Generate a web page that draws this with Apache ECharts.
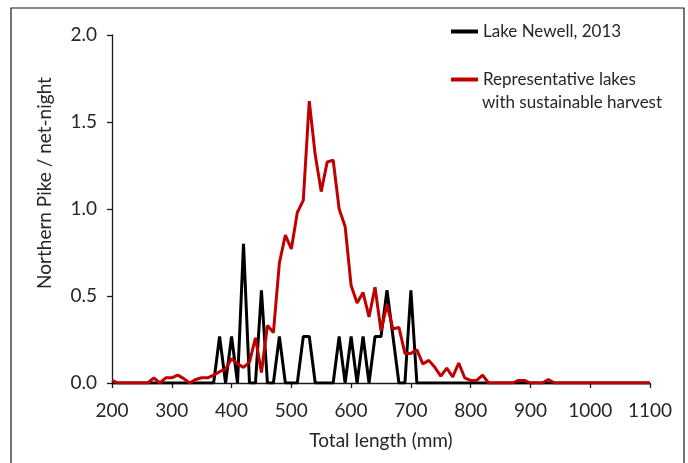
<!DOCTYPE html>
<html>
<head>
<meta charset="utf-8">
<script src="https://cdn.jsdelivr.net/npm/echarts@6/dist/echarts.min.js"></script>
<style>
  html, body { margin: 0; padding: 0; background: #fff; }
  #chart { width: 688px; height: 463px; }
</style>
</head>
<body>
<div id="chart"></div>
<script>
// total length classes (mm)
var lengths = [200, 210, 220, 230, 240, 250, 260, 270, 280, 290,
               300, 310, 320, 330, 340, 350, 360, 370, 380, 390,
               400, 410, 420, 430, 440, 450, 460, 470, 480, 490,
               500, 510, 520, 530, 540, 550, 560, 570, 580, 590,
               600, 610, 620, 630, 640, 650, 660, 670, 680, 690,
               700, 710, 720, 730, 740, 750, 760, 770, 780, 790,
               800, 810, 820, 830, 840, 850, 860, 870, 880, 890,
               900, 910, 920, 930, 940, 950, 960, 970, 980, 990,
               1000, 1010, 1020, 1030, 1040, 1050, 1060, 1070, 1080, 1090,
               1100];

// Lake Newell, 2013 (pike / net-night)
var newell = [0, 0, 0, 0, 0, 0, 0, 0, 0, 0,
              0, 0, 0, 0, 0, 0, 0, 0, 0.267, 0,
              0.267, 0, 0.8, 0, 0, 0.533, 0, 0, 0.267, 0,
              0, 0, 0.267, 0.267, 0, 0, 0, 0, 0.267, 0,
              0.267, 0, 0.267, 0, 0.267, 0.267, 0.533, 0.267, 0, 0,
              0.533, 0, 0, 0, 0, 0, 0, 0, 0, 0,
              0, 0, 0, 0, 0, 0, 0, 0, 0, 0,
              0, 0, 0, 0, 0, 0, 0, 0, 0, 0,
              0, 0, 0, 0, 0, 0, 0, 0, 0, 0,
              0];

// representative lakes with sustainable harvest
var representative = [0.015, 0, 0, 0, 0, 0, 0, 0.03, 0, 0.03,
                      0.03, 0.045, 0.025, 0, 0.02, 0.03, 0.03, 0.045, 0.065, 0.08,
                      0.14, 0.11, 0.09, 0.12, 0.26, 0.06, 0.33, 0.29, 0.69, 0.85,
                      0.77, 0.98, 1.05, 1.62, 1.31, 1.10, 1.27, 1.28, 1.00, 0.90,
                      0.56, 0.46, 0.52, 0.38, 0.55, 0.30, 0.45, 0.31, 0.32, 0.17,
                      0.17, 0.19, 0.11, 0.13, 0.09, 0.04, 0.085, 0.035, 0.115, 0.03,
                      0.015, 0.015, 0.045, 0, 0, 0, 0, 0, 0.015, 0.015,
                      0, 0, 0, 0.02, 0, 0, 0, 0, 0, 0,
                      0, 0, 0, 0, 0, 0, 0, 0, 0, 0,
                      0];

var seriesNames = ['Lake Newell, 2013', 'Representative lakes'];
var legendSecondLine = 'with sustainable harvest';
var fontName = 'Lato';
var textColor = '#262626';

function pairs(vals) {
  return lengths.map(function (x, i) { return [x, vals[i]]; });
}

var chart = echarts.init(document.getElementById('chart'), null, { renderer: 'canvas' });
chart.setOption({
  animation: false,
  backgroundColor: '#fff',
  textStyle: { fontFamily: fontName, color: textColor },
  graphic: [{
    type: 'rect',
    shape: { x: 11, y: 8, width: 673, height: 470 },
    style: { fill: 'none', stroke: '#1a1a1a', lineWidth: 1.2 },
    silent: true
  }, {
    // legend entry runs onto a second line in the original
    type: 'text',
    left: 482, top: 94,
    style: { text: legendSecondLine, font: '17px ' + fontName, fill: textColor },
    silent: true
  }],
  grid: { left: 112, right: 38, top: 35, bottom: 80, containLabel: false },
  legend: [{
    data: [seriesNames[0]],
    left: 451, top: 23, padding: 0,
    icon: 'rect', itemWidth: 27, itemHeight: 4,
    textStyle: { fontFamily: fontName, fontSize: 17, color: textColor }
  }, {
    data: [seriesNames[1]],
    left: 451, top: 71, padding: 0,
    icon: 'rect', itemWidth: 27, itemHeight: 4,
    textStyle: { fontFamily: fontName, fontSize: 17, color: textColor }
  }],
  xAxis: {
    type: 'value',
    min: 200, max: 1100, interval: 100,
    name: 'Total length (mm)',
    nameLocation: 'middle', nameGap: 48,
    nameTextStyle: { fontFamily: fontName, fontSize: 19, color: textColor },
    axisLine: { lineStyle: { color: '#1a1a1a', width: 1.3 } },
    axisTick: { show: true, inside: false, length: 5, lineStyle: { color: '#1a1a1a', width: 1.3 } },
    axisLabel: { margin: 18, fontFamily: fontName, fontSize: 19, color: textColor,
                 formatter: function (v) { return String(v); } },
    splitLine: { show: false }
  },
  yAxis: {
    type: 'value',
    min: 0, max: 2, interval: 0.5,
    name: 'Northern Pike / net-night',
    nameLocation: 'middle', nameGap: 58,
    nameTextStyle: { fontFamily: fontName, fontSize: 19, color: textColor, padding: [0, 0, 0, 52] },
    axisLine: { show: true, lineStyle: { color: '#1a1a1a', width: 1.3 } },
    axisTick: { show: true, inside: false, length: 5, lineStyle: { color: '#1a1a1a', width: 1.3 } },
    axisLabel: { margin: 15, fontFamily: fontName, fontSize: 19, color: textColor,
                 formatter: function (v) { return v.toFixed(1); } },
    splitLine: { show: false }
  },
  series: [{
    name: seriesNames[0],
    type: 'line',
    data: pairs(newell),
    showSymbol: false, symbol: 'none',
    lineStyle: { color: '#000', width: 3 },
    itemStyle: { color: '#000' },
    z: 2
  }, {
    name: seriesNames[1],
    type: 'line',
    data: pairs(representative),
    showSymbol: false, symbol: 'none',
    lineStyle: { color: '#c00000', width: 3 },
    itemStyle: { color: '#c00000' },
    z: 3
  }]
});
</script>
</body>
</html>
